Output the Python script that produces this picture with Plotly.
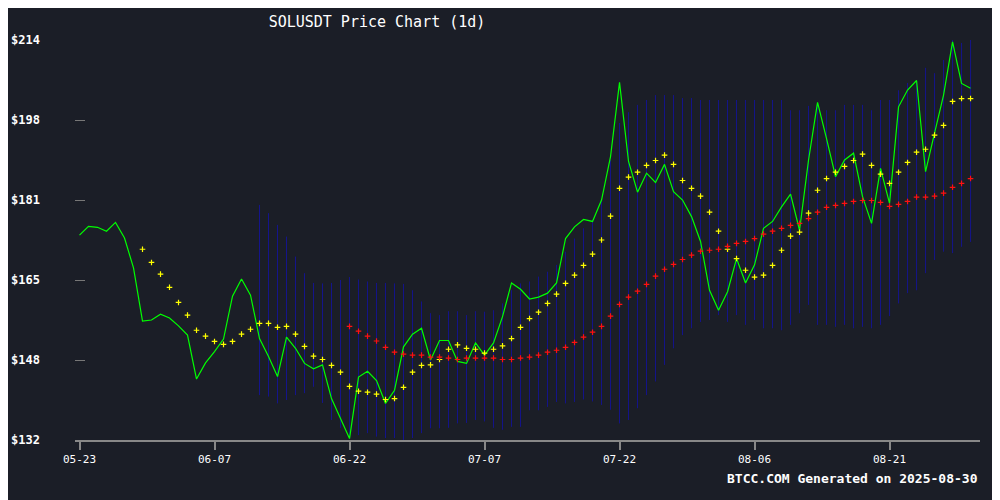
import plotly.graph_objects as go
import pandas as pd

start_date = "2025-05-23"
n_days = 100
dates = list(pd.date_range(start_date, periods=n_days, freq="D"))

price = [174.0,175.8,175.6,174.8,176.6,173.4,167.3,156.4,156.6,157.8,157.0,155.4,153.5,144.5,147.8,150.1,152.7,161.5,165.0,161.7,
         152.8,149.1,145.0,153.1,150.8,147.7,146.6,147.4,140.5,136.4,132.3,144.9,146.1,144.2,139.5,142.2,151.1,153.7,154.9,148.4,
         152.4,152.4,148.1,147.7,151.9,149.4,151.9,157.3,164.2,162.9,160.9,161.3,162.1,164.2,173.3,175.7,177.2,176.8,181.2,190.1,
         205.3,189.1,182.8,186.7,184.8,188.5,182.9,181.2,177.8,172.7,162.7,158.6,162.4,169.2,164.2,167.9,175.4,176.8,179.8,182.4,
         175.0,189.4,201.2,193.8,186.0,189.4,190.8,181.9,176.4,187.7,180.5,200.3,203.75,205.7,187.0,194.9,202.7,213.6,205.1,204.1]

ma_short_start = 7
ma_short = [171.1,168.4,166.0,163.3,160.2,157.6,154.5,153.3,152.2,151.6,152.2,153.7,154.7,
            155.9,155.9,155.1,155.3,153.7,151.2,149.2,148.5,147.3,145.9,143.0,142.0,141.8,141.4,140.3,140.5,142.8,145.9,147.3,
            147.4,148.5,150.6,151.5,150.8,150.6,149.8,150.6,151.3,152.8,155.1,156.9,158.2,160.0,161.9,164.1,165.8,167.8,170.1,173.0,
            177.9,183.6,185.9,186.9,188.3,189.3,190.4,188.5,185.2,183.6,182.0,178.7,174.8,171.1,169.2,166.8,165.4,165.8,167.8,170.9,
            173.8,174.6,178.5,183.2,185.6,186.9,188.1,189.3,190.6,188.3,186.5,184.6,186.9,188.9,191.0,191.6,194.5,196.5,201.4,202.0,202.0]

ma_long_start = 30
ma_long = [155.3,154.3,153.3,152.3,151.0,150.0,149.6,149.4,149.4,
           149.0,149.0,148.8,148.5,148.8,148.8,148.8,148.8,148.5,148.5,148.8,149.0,149.4,150.0,150.4,151.0,152.0,153.1,154.1,155.3,
           157.4,159.8,161.3,162.5,163.9,165.6,167.0,168.0,169.0,169.9,170.7,170.9,171.1,171.7,172.3,172.7,173.3,174.2,174.8,175.4,
           176.0,176.4,177.4,178.7,179.7,180.1,180.5,180.9,181.1,181.1,180.7,179.9,180.3,180.9,181.8,181.8,182.0,182.6,183.8,184.6,185.6]

band_start = 20
band_upper = [180.2,178.5,176.1,173.7,169.6,166.2,164.2,164.1,164.2,164.8,165.4,164.9,164.5,164.2,164.2,164.1,164.0,162.7,160.4,
              158.0,157.6,158.4,158.4,157.6,158.4,158.3,158.6,160.0,162.7,164.1,164.5,165.5,166.5,167.9,170.6,173.3,175.4,177.1,
              181.2,189.4,197.0,199.2,200.7,201.7,202.7,202.7,202.7,202.1,202.1,201.7,201.7,201.7,201.7,201.7,201.7,201.7,201.7,201.7,
              201.7,199.6,199.6,200.5,200.7,199.6,199.6,200.7,200.7,200.7,199.6,201.7,201.7,203.7,205.2,205.8,208.3,207.2,209.9,214.0,213.4,214.0]
band_lower = [141.2,140.9,139.5,140.2,141.2,141.6,142.9,139.6,136.1,134.5,132.4,133.0,133.4,132.7,132.4,132.4,132.0,132.4,133.4,
              134.4,134.4,134.5,135.4,135.5,136.1,135.8,134.5,134.1,134.7,134.7,138.1,138.1,138.8,139.8,139.5,139.8,
              140.3,139.9,139.2,138.2,135.4,136.1,138.5,141.2,144.0,147.4,150.8,153.5,154.9,156.2,156.6,157.6,156.2,157.6,155.6,156.6,
              154.9,154.9,154.5,155.6,158.0,159.7,155.6,155.6,155.2,155.6,154.9,155.2,154.9,155.6,157.4,160.0,162.1,162.7,166.2,168.9,
              170.6,170.3,171.6,172.6]

y_ticks = [132, 148.4, 164.8, 181.2, 197.6, 214]
y_tick_text = ["$132", "$148", "$165", "$181", "$198", "$214"]
x_tick_dates = ["2025-05-23", "2025-06-07", "2025-06-22", "2025-07-07", "2025-07-22", "2025-08-06", "2025-08-21"]
x_tick_text = ["05-23", "06-07", "06-22", "07-07", "07-22", "08-06", "08-21"]

title = "SOLUSDT Price Chart (1d)"
footer = "BTCC.COM Generated on 2025-08-30"

bx, by = [], []
for i, (u, l) in enumerate(zip(band_upper, band_lower)):
    d = dates[band_start + i]
    bx += [d, d, None]
    by += [l, u, None]

BG = "#1b1e27"
mono = "DejaVu Sans Mono"

fig = go.Figure()
fig.add_trace(go.Scatter(x=bx, y=by, mode="lines", line=dict(color="#14148c", width=1),
                         hoverinfo="skip", showlegend=False))
fig.add_trace(go.Scatter(x=dates, y=price, mode="lines", line=dict(color="#00ff00", width=1.2),
                         showlegend=False))
fig.add_trace(go.Scatter(x=dates[ma_short_start:], y=ma_short, mode="markers",
                         marker=dict(symbol="cross-thin", size=4, line=dict(color="#ffff00", width=1.2)),
                         showlegend=False))
fig.add_trace(go.Scatter(x=dates[ma_long_start:], y=ma_long, mode="markers",
                         marker=dict(symbol="cross-thin", size=4, line=dict(color="#ff1010", width=1.2)),
                         showlegend=False))

fig.update_layout(
    width=1000, height=500,
    paper_bgcolor=BG, plot_bgcolor=BG,
    margin=dict(l=67, r=28, t=32, b=68, autoexpand=False),
    title=dict(text=title, x=0.369, xanchor="center", y=0.972, yanchor="middle",
               font=dict(family=mono, size=15, color="white")),
    xaxis=dict(range=["2025-05-22 12:00", "2025-08-31 01:12"], showgrid=False, zeroline=False,
               automargin=False,
               showline=True, linecolor="#888888", linewidth=1.5,
               tickmode="array", tickvals=x_tick_dates, ticktext=x_tick_text,
               ticks="outside", ticklen=8, tickcolor="#888888", tickwidth=1.5,
               tickfont=dict(family=mono, size=11, color="white")),
    yaxis=dict(range=[132, 214], showgrid=False, zeroline=False, showline=False,
               automargin=False,
               tickmode="array", tickvals=y_ticks, ticktext=y_tick_text,
               ticks="inside", ticklen=10, tickcolor="#777777", tickwidth=1,
               ticklabelstandoff=34,
               tickfont=dict(family=mono, size=12, color="white", weight="bold")),
    annotations=[dict(text=footer, xref="paper", yref="paper", x=1.0, y=-0.095,
                      xanchor="right", yanchor="middle", showarrow=False,
                      font=dict(family=mono, size=13, color="white", weight="bold"))],
)
fig.write_html("out.html")
